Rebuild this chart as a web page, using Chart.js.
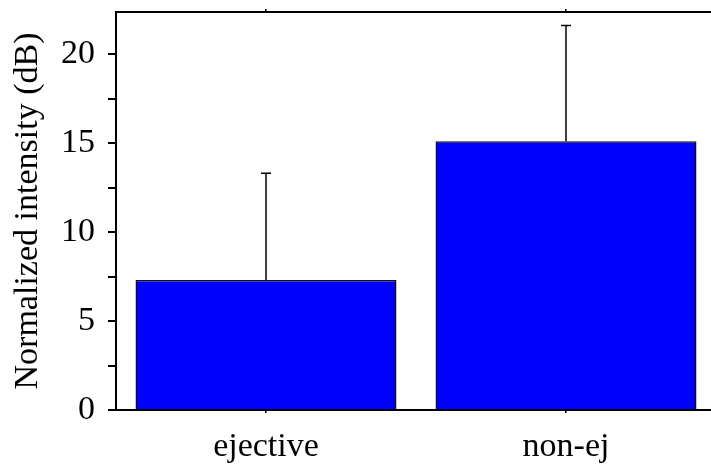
<!DOCTYPE html>
<html>
<head>
<meta charset="utf-8">
<script src="https://cdn.jsdelivr.net/npm/chart.js@4/dist/chart.umd.min.js"></script>
<style>
  html, body { margin: 0; padding: 0; overflow: hidden; background: #fff; }
  #wrap { width: 720px; height: 469px; }
</style>
</head>
<body>
<div id="wrap"><canvas id="canvas" width="720" height="469"></canvas></div>
<script>
const categories = ['ejective', 'non-ej'];
const means = [7.3, 15.1];
const errors = [6.0, 6.5];
const yMax = 22.36;

const ctx = document.getElementById('canvas').getContext('2d');
const font = { family: 'Liberation Serif', size: 34 };

// draws the upper error whiskers on top of each bar
const errorBars = {
    id: 'errorBars',
    afterDatasetsDraw(chart) {
        const meta = chart.getDatasetMeta(0);
        const y = chart.scales.y;
        const c = chart.ctx;
        c.save();
        c.strokeStyle = '#000';
        c.lineWidth = 1.5;
        meta.data.forEach((bar, i) => {
            const top = y.getPixelForValue(means[i] + errors[i]);
            c.beginPath();
            c.moveTo(bar.x, bar.y);
            c.lineTo(bar.x, top);
            c.moveTo(bar.x - 5, top);
            c.lineTo(bar.x + 5, top);
            c.stroke();
        });
        c.restore();
    }
};

new Chart(ctx, {
    type: 'bar',
    data: {
        labels: categories,
        datasets: [{
            data: means,
            backgroundColor: '#0000ff',
            borderColor: '#111',
            borderWidth: 1.5,
            categoryPercentage: 0.87,
            barPercentage: 1
        }]
    },
    plugins: [errorBars],
    options: {
        responsive: false,
        animation: false,
        layout: { padding: { top: 0, right: 4, left: 0, bottom: 0 } },
        plugins: { legend: { display: false }, tooltip: { enabled: false } },
        scales: {
            x: {
                position: 'bottom',
                grid: { offset: false, drawOnChartArea: false, tickLength: 3, color: '#000', lineWidth: 1.5 },
                border: { color: '#000', width: 2 },
                ticks: { color: '#000', font: font, padding: 14, maxRotation: 0 },
                afterFit(s) { s.height = 59; s.paddingLeft = 0; s.paddingRight = 0; }
            },
            x2: {
                type: 'category',
                position: 'top',
                offset: true,
                grid: { offset: false, drawOnChartArea: false, tickLength: 3, color: '#000', lineWidth: 1.5 },
                border: { color: '#000', width: 2 },
                ticks: { display: false },
                afterFit(s) { s.height = 12; s.paddingLeft = 0; s.paddingRight = 0; }
            },
            y: {
                min: 0,
                max: yMax,
                grid: { drawOnChartArea: false, tickLength: 8, color: '#000', lineWidth: 2 },
                border: { color: '#000', width: 2 },
                ticks: {
                    stepSize: 2.5,
                    includeBounds: false,
                    color: '#000',
                    font: font,
                    padding: 13,
                    callback: v => (v % 5 === 0 ? String(v) : '')
                },
                title: {
                    display: true,
                    text: 'Normalized intensity (dB)',
                    color: '#000',
                    font: font,
                    padding: { top: 8, bottom: 0 }
                },
                afterFit(s) { s.width = 116; s.paddingTop = 0; s.paddingBottom = 0; }
            }
        }
    }
});
</script>
</body>
</html>
